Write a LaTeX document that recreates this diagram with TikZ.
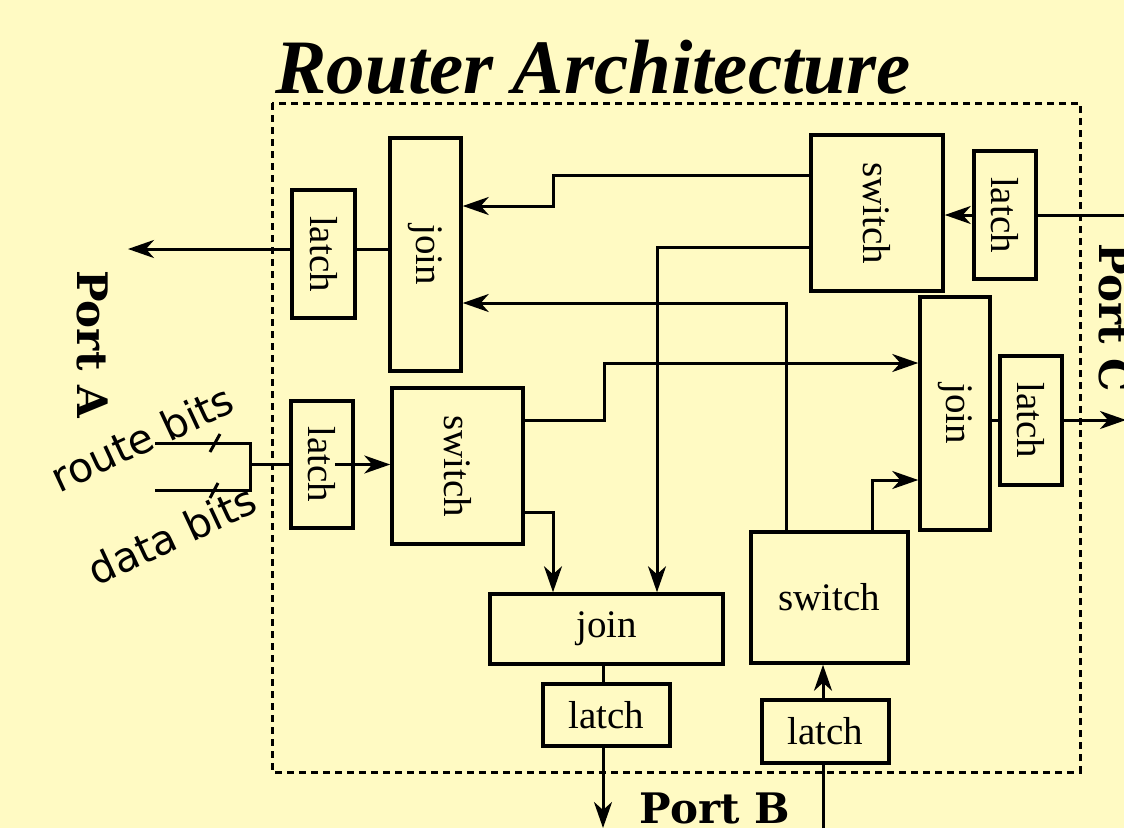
\documentclass[tikz,border=0pt]{standalone}
\usepackage{fontspec}
\setmainfont{Liberation Serif}
\newfontfamily\portfont{DejaVu Serif}
\newfontfamily\busfont{DejaVu Sans}
\usepackage{graphicx}
\usetikzlibrary{arrows.meta, calc}
\definecolor{paper}{RGB}{255,250,195}
\tikzstyle{box}   = [rectangle, draw=black, line width=3.5pt, inner sep=0pt, font=\fontsize{39}{39}\selectfont]
\tikzstyle{wire}  = [line width=3pt]
\tikzstyle{arrow} = [line width=3pt, -{Stealth[length=26pt, width=18pt, inset=8pt]}]
\tikzstyle{port}  = [font=\portfont\bfseries\fontsize{42}{42}\selectfont]
\tikzstyle{bus}   = [font=\busfont\fontsize{41}{41}\selectfont, rotate=25]
\newcommand{\vtext}[1]{\rotatebox{-90}{#1}}

\begin{document}
\begin{tikzpicture}[x=1pt, y=-1pt]
  \useasboundingbox (0,0) rectangle (1124,828);
  \clip (0,0) rectangle (1124,828);
  \fill[paper] (0,0) rectangle (1124,828);

  % Title and router frame
  \node[font=\bfseries\itshape\fontsize{77}{77}\selectfont, anchor=base] (title) at (593,93) {Router Architecture};
  \draw[line width=3pt, dash pattern=on 7pt off 5pt] (272,103) rectangle (1080,772);

  % Port A side
  \node[box, minimum width=63pt, minimum height=128pt] (latchAout) at (323.5,254) {\vtext{latch}};
  \node[box, minimum width=71pt, minimum height=233pt] (joinA) at (425.5,254.5) {\vtext{join}};
  \node[box, minimum width=62pt, minimum height=127pt] (latchAin) at (322,464.5) {\vtext{latch}};
  \node[box, minimum width=131pt, minimum height=156pt] (switchA) at (457.5,466) {\vtext{switch}};

  % Port C side
  \node[box, minimum width=132pt, minimum height=156pt] (switchC) at (877,213) {\vtext{switch}};
  \node[box, minimum width=62pt, minimum height=128pt] (latchCin) at (1005,215) {\vtext{latch}};
  \node[box, minimum width=70pt, minimum height=233pt] (joinC) at (955,413.5) {\vtext{join}};
  \node[box, minimum width=62pt, minimum height=129pt] (latchCout) at (1031,420.5) {\vtext{latch}};

  % Port B side
  \node[box, minimum width=233pt, minimum height=70pt] (joinB) at (606.5,629) {join};
  \node[box, minimum width=127pt, minimum height=62pt] (latchBout) at (606.5,715) {latch};
  \node[box, minimum width=157pt, minimum height=131pt] (switchB) at (829.5,597.5) {switch};
  \node[box, minimum width=127pt, minimum height=63pt] (latchBin) at (825.5,731.5) {latch};

  % Port labels
  \node[port, rotate=-90] (portA) at (93,344) {Port A};
  \node[port, rotate=-90] (portC) at (1115,318) {Port C};
  \node[port, anchor=base] (portB) at (715,823) {Port B};

  % Outside ends
  \coordinate (outA) at (128,249);
  \coordinate (inC) at (1124,215);
  \coordinate (outC) at (1126,420);
  \coordinate (outB) at (603,828);
  \coordinate (inB) at (823,828);
  \coordinate (routein) at (155,443);
  \coordinate (datain) at (155,490);
  \coordinate (busjoin) at (250,464);

  % Input bundle at Port A
  \node[bus] (routelbl) at (142,438) {route bits};
  \node[bus] (datalbl) at (172,535) {data bits};
  \draw[wire] (routein) -| (busjoin |- datain) -- (datain);
  \draw[wire] (210,452) -- (220,434);
  \draw[wire] (210,498) -- (218,483);
  \draw[wire] (busjoin) -- (latchAin.west |- busjoin);
  \draw[arrow] ([xshift=-20pt]latchAin.east) -- (switchA.west |- latchAin);

  % Connections
  \draw[wire] (joinA.west |- outA) -- (latchAout.east |- outA);
  \draw[arrow] (latchAout.west |- outA) -- (outA);
  \draw[arrow] (switchC.west |- 0,175) -| (553,206) -- (joinA.east |- 0,206);
  \draw[arrow] (switchC.west |- 0,247) -| (joinB.north -| 657,0);
  \draw[arrow] (switchB.north -| 786,0) |- (joinA.east |- 0,303);
  \draw[arrow] (switchA.east |- 0,420) -| (604,363) -- (joinC.west |- 0,363);
  \draw[arrow] (switchA.east |- 0,512) -| (joinB.north -| 553,0);
  \draw[arrow] (switchB.north -| 872,0) |- (joinC.west |- 0,480);
  \draw[wire] (inC) -- (latchCin.east |- inC);
  \draw[arrow] (latchCin.west |- inC) -- (switchC.east |- inC);
  \draw[wire] (joinC.east |- outC) -- (latchCout.west |- outC);
  \draw[arrow] (latchCout.east |- outC) -- (outC);
  \draw[wire] (joinB.south -| outB) -- (latchBout.north -| outB);
  \draw[arrow] (latchBout.south -| outB) -- (outB);
  \draw[wire] (inB) -- (latchBin.south -| inB);
  \draw[arrow] (latchBin.north -| inB) -- (switchB.south -| inB);
\end{tikzpicture}
\end{document}
